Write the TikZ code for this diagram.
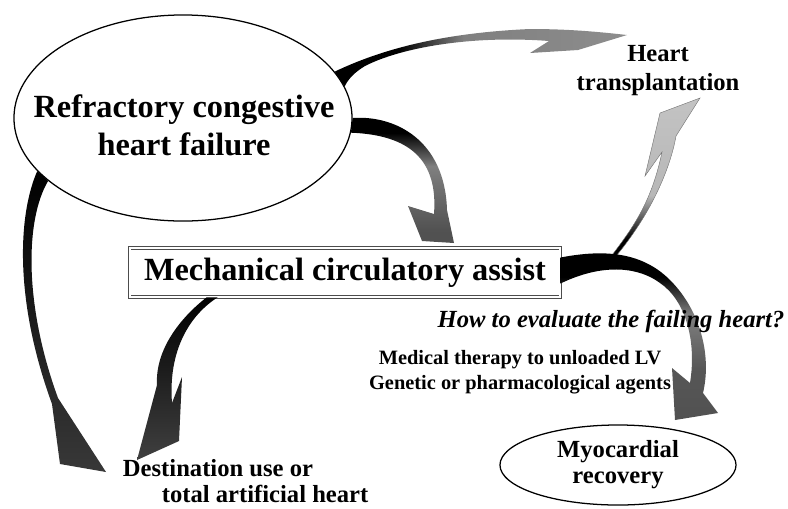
\documentclass[tikz,border=0pt]{standalone}
\usepackage{fontspec}
\setmainfont{Liberation Serif}
\usetikzlibrary{shapes.geometric,calc}
\pgfdeclarehorizontalshading{toheart}{100bp}{color(0bp)=(black); color(36bp)=(black); color(47bp)=(black!50); color(100bp)=(black!40)}
\pgfdeclareverticalshading{downassist}{100bp}{color(0bp)=(black!70); color(30bp)=(black!68); color(55bp)=(black!50); color(68bp)=(black); color(100bp)=(black)}
\pgfdeclareverticalshading{downrecov}{100bp}{color(0bp)=(black!72); color(40bp)=(black!66); color(56bp)=(black!50); color(67bp)=(black); color(100bp)=(black)}
\pgfdeclareverticalshading{uptrans}{100bp}{color(0bp)=(black); color(30bp)=(black); color(44bp)=(black!28); color(100bp)=(black!20)}

\begin{document}
\begin{tikzpicture}[x=0.025cm, y=-0.025cm,
    oval/.style={draw, ellipse, line width=0.9pt, inner sep=0pt},
    big/.style={font=\fontsize{23}{27}\selectfont\bfseries, align=center},
    mid/.style={font=\fontsize{17.5}{20.6}\selectfont\bfseries, align=center},
    small/.style={font=\fontsize{14.5}{17.8}\selectfont\bfseries, align=center},
    band/.style={draw=black!55, line width=0.3pt}]
  \useasboundingbox (0,0) rectangle (788,508);
  \node[oval, minimum width=8.45cm, minimum height=5.15cm] (rchf) at (183,118) {};
  \node[draw=black!70, double, double distance=1pt, line width=0.6pt, minimum width=10.75cm, minimum height=1.225cm, big] (mca) at (345,272.5) {Mechanical circulatory assist};
  \node[oval, font=\fontsize{17.5}{18.5}\selectfont\bfseries, align=center, minimum width=5.9cm, minimum height=2cm] (myo) at (618,465) {Myocardial\\recovery};
  \shade[shading=toheart]
    (rchf.17) .. controls (380,50) and (440,33) .. (530,29) .. controls (570,29) and (600,32) .. (627,35)
    -- (578,50) -- (530,53) -- (549,41) .. controls (470,35) and (400,48) .. (365,66)
    .. controls (355,72) and (348,79) .. (rchf.11) -- cycle;
  \shade[shading=downassist]
    (rchf.0) .. controls (395,115) and (445,140) .. (447,210) -- (454,243) -- (422,241) -- (408,206)
    -- (434,214) .. controls (438,160) and (410,135) .. (rchf.-5) -- cycle;
  \shadedraw[band, shading=uptrans]
    ($(mca.east)+(52,-18)$) .. controls (635,225) and (652,200) .. (662,152) -- (645,176) -- (660,113)
    -- (700,98) -- (676,136) .. controls (670,170) and (650,215) .. ($(mca.east)+(56,-17)$) -- cycle;
  \shade[shading=downrecov]
    ($(mca.east)+(0,-15)$) .. controls (600,250) and (640,250) .. (670,280) .. controls (700,310) and (712,355) .. (703,393)
    -- (718,413) -- (675,420) -- (672,368) -- (690,383) .. controls (697,340) and (685,300) .. (660,283)
    .. controls (640,268) and (605,262) .. ($(mca.east)+(0,11)$) -- cycle;
  \shade[top color=black, bottom color=black!75]
    ($(mca.south west)+(77,0)$) .. controls (180,318) and (155,350) .. (157,385) -- (137,460) -- (179,441)
    -- (182,377) -- (172,403) .. controls (168,350) and (190,315) .. ($(mca.south west)+(88,0)$) -- cycle;
  \shade[top color=black, bottom color=black!78]
    (rchf.200) .. controls (18,215) and (14,300) .. (52,404) -- (60,464) -- (106,472) -- (58,398)
    .. controls (24,305) and (25,220) .. (rchf.205) -- cycle;
  \node[big] (rchftxt) at (184,125) {Refractory congestive\\heart failure};
  \node[mid] (htx) at (658,71) {Heart\\transplantation};
  \node[font=\fontsize{17.5}{20.6}\selectfont\bfseries\itshape] (evalq) at (611,321) {How to evaluate the failing heart?};
  \node[small] (ther) at (520,372) {Medical therapy to unloaded LV\\Genetic or pharmacological agents};
  \node[font=\fontsize{17.5}{18.5}\selectfont\bfseries, align=left, anchor=west] (dest) at (118,481) {Destination use or\\\hspace*{27.7pt}total artificial heart};
\end{tikzpicture}
\end{document}
